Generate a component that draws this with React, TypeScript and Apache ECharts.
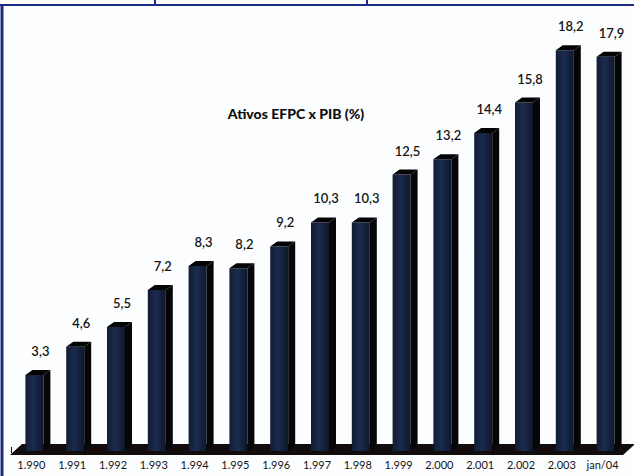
import React, { useEffect, useRef } from "react";
import * as echarts from "echarts";

// Ativos das EFPC em relação ao PIB (%)
const categories = [
  "1.990", "1.991", "1.992", "1.993", "1.994", "1.995", "1.996", "1.997",
  "1.998", "1.999", "2.000", "2.001", "2.002", "2.003", "jan/04",
];
const values = [3.3, 4.6, 5.5, 7.2, 8.3, 8.2, 9.2, 10.3, 10.3, 12.5, 13.2, 14.4, 15.8, 18.2, 17.9];
const titleText = "Ativos EFPC x PIB (%)";

const FONT = "Lato, 'Open Sans', sans-serif";
const FRAME = "#1c2a80";

function fmt(v: number) {
  return v.toFixed(1).replace(".", ",");
}

export default function App() {
  const ref = useRef<HTMLDivElement>(null);

  useEffect(() => {
    if (!ref.current) return;
    const chart = echarts.init(ref.current, null, { renderer: "svg" });

    // 3D-looking column: front face, right side face and top face
    const renderBar = (params: any, api: any) => {
      const idx = api.value(0);
      const v = api.value(1);
      const top = api.coord([idx, v]);
      const base = api.coord([idx, 0]);
      const c = top[0];
      const x0 = c - 6;
      const x1 = c + 12;
      const dx = 7;
      const dy = -5;
      const yTop = top[1];
      const yBase = base[1] + 4;
      return {
        type: "group",
        children: [
          {
            type: "rect",
            shape: { x: x0, y: yTop, width: x1 - x0, height: yBase - yTop },
            style: {
              fill: new echarts.graphic.LinearGradient(0, 0, 1, 0, [
                { offset: 0, color: "#121c34" },
                { offset: 0.45, color: "#1a2b4d" },
                { offset: 1, color: "#0f172b" },
              ]),
            },
          },
          {
            type: "polygon",
            shape: {
              points: [
                [x1, yTop],
                [x1 + dx, yTop + dy],
                [x1 + dx, yBase + dy],
                [x1, yBase],
              ],
            },
            style: { fill: "#060608" },
          },
          {
            type: "polygon",
            shape: {
              points: [
                [x0, yTop],
                [x0 + dx, yTop + dy],
                [x1 + dx, yTop + dy],
                [x1, yTop],
              ],
            },
            style: { fill: "#040406" },
          },
          {
            type: "text",
            style: {
              x: c + 9,
              y: yTop - 24,
              text: fmt(v),
              align: "center",
              verticalAlign: "middle",
              fill: "#151515",
              font: `600 13px ${FONT}`,
            },
          },
        ],
      };
    };

    // Floor slab under the columns, spanning all categories
    const renderFloor = (params: any, api: any) => {
      const first = api.coord([0, 0]);
      const last = api.coord([categories.length - 1, 0]);
      const band = api.size([1, 0])[0];
      const left = first[0] - band / 2 - 1;
      const right = last[0] + band / 2;
      const yFront = first[1] + 8;
      const yBack = first[1] - 3;
      const depth = 12;
      return {
        type: "polygon",
        shape: {
          points: [
            [left, yFront],
            [right, yFront],
            [right + depth, yBack],
            [left + depth, yBack],
          ],
        },
        style: { fill: "#120c0c" },
      };
    };

    chart.setOption({
      animation: false,
      backgroundColor: "#fcfdff",
      grid: { left: 11, right: 11, top: 11, bottom: 29 },
      xAxis: {
        type: "category",
        data: categories,
        offset: 8,
        axisLine: { show: false },
        axisTick: { show: true, length: 6, lineStyle: { color: "#111", width: 1 } },
        axisLabel: {
          color: "#151515",
          fontFamily: FONT,
          fontSize: 11,
          margin: 4,
          interval: 0,
        },
      },
      yAxis: {
        type: "value",
        min: 0,
        max: 20,
        show: false,
        splitLine: { show: false },
      },
      series: [
        {
          type: "custom",
          renderItem: renderFloor,
          data: [[0, 0]],
          encode: { x: 0, y: 1 },
          silent: true,
          z: 1,
        },
        {
          type: "custom",
          renderItem: renderBar,
          data: values.map((v, i) => [i, v]),
          encode: { x: 0, y: 1 },
          z: 2,
        },
      ],
      graphic: [
        {
          type: "line",
          shape: { x1: 0, y1: 5, x2: 634, y2: 5 },
          style: { stroke: FRAME, lineWidth: 2 },
        },
        {
          type: "line",
          shape: { x1: 2, y1: 4, x2: 2, y2: 476 },
          style: { stroke: FRAME, lineWidth: 3 },
        },
        {
          type: "line",
          shape: { x1: 155, y1: 0, x2: 155, y2: 5 },
          style: { stroke: FRAME, lineWidth: 2 },
        },
        {
          type: "line",
          shape: { x1: 367, y1: 0, x2: 367, y2: 5 },
          style: { stroke: FRAME, lineWidth: 2 },
        },
        {
          type: "text",
          x: 296,
          y: 113,
          style: {
            text: titleText,
            align: "center",
            verticalAlign: "middle",
            fill: "#0c0c0c",
            font: `900 14px ${FONT}`,
          },
        },
      ],
    });

    return () => chart.dispose();
  }, []);

  return <div ref={ref} style={{ width: 634, height: 476, position: "fixed", left: 0, top: 0 }} />;
}
